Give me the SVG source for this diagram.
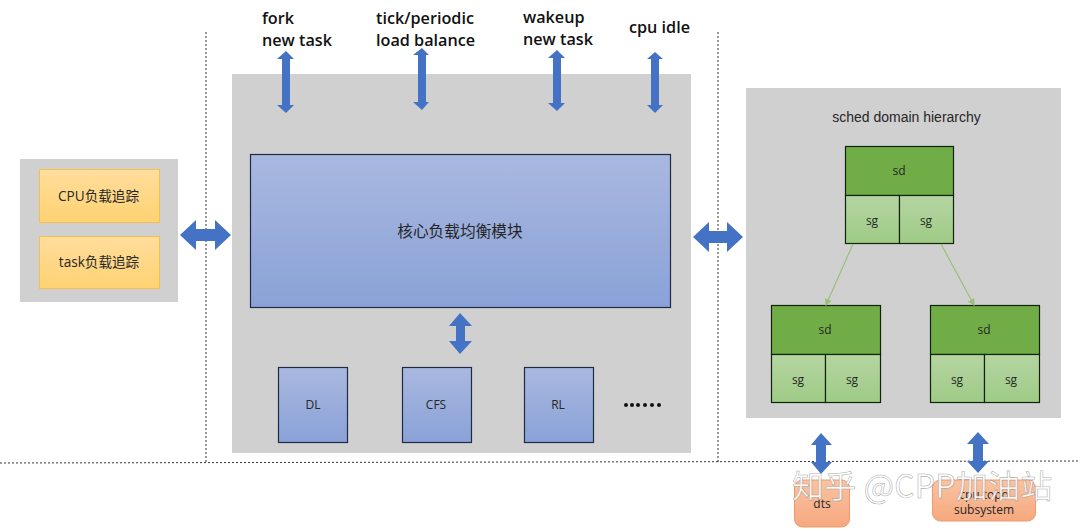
<svg xmlns="http://www.w3.org/2000/svg" width="1080" height="531" viewBox="0 0 1080 531">
<style>
text{font-family:"Open Sans","Noto Sans CJK SC",sans-serif;text-anchor:middle;fill:#262626}
.panel{fill:#d0d0d0}
.y{fill:url(#gy);stroke:#f0c050;stroke-width:1}
.b{fill:url(#gb);stroke:#1f2a44;stroke-width:1.2}
.sd{fill:#70ad47;stroke:#10240a;stroke-width:1.2}
.sg{fill:url(#gg);stroke:#10240a;stroke-width:1.2}
.o{fill:url(#go);stroke:#ed9a70;stroke-width:1}
.a{fill:#4472c4}
.top{font-size:16.2px;font-weight:600;text-anchor:start;fill:#111}
.s{font-size:12px}
.t{font-size:13.6px}
.d{stroke:#333;stroke-width:1;stroke-dasharray:2 2;fill:none}
.g{stroke:#9cbf7a;stroke-width:1.2;fill:none;marker-end:url(#m)}
.w{font-size:32px;letter-spacing:.2px;fill:#fff;fill-opacity:.85;stroke:#8a8a8a;stroke-width:.6;stroke-opacity:.7;text-anchor:start;font-family:"Noto Sans CJK SC",sans-serif}
</style>
<defs>
<linearGradient id="gy" x1="0" y1="0" x2="0" y2="1"><stop offset="0" stop-color="#ffdd9c"/><stop offset="1" stop-color="#ffd272"/></linearGradient>
<linearGradient id="gb" x1="0" y1="0" x2="0" y2="1"><stop offset="0" stop-color="#a9b8df"/><stop offset="1" stop-color="#8aa2d8"/></linearGradient>
<linearGradient id="gg" x1="0" y1="0" x2="0" y2="1"><stop offset="0" stop-color="#b5d5a2"/><stop offset="1" stop-color="#9fcb86"/></linearGradient>
<linearGradient id="go" x1="0" y1="0" x2="0" y2="1"><stop offset="0" stop-color="#f9c3a2"/><stop offset="1" stop-color="#f6a87e"/></linearGradient>
<marker id="m" markerWidth="6" markerHeight="6" refX="5" refY="3" orient="auto"><path d="M0 0L6 3L0 6z" fill="#9cbf7a"/></marker>
</defs>
<rect width="1080" height="531" fill="#fff"/>
<g id="load-tracking"><rect class="panel" x="20" y="159" width="158" height="143"/>
<rect class="y" x="39.500" y="169.500" width="120" height="53"/><text class="t" x="98.500" y="201">CPU负载追踪</text>
<rect class="y" x="39.500" y="236.500" width="120" height="52"/><text class="t" x="99" y="267">task负载追踪</text></g>
<g id="core-panel"><rect class="panel" x="232" y="74" width="459" height="379"/></g>
<g id="core-module"><rect class="b" x="250.500" y="154.500" width="420" height="153"/><text x="460" y="237" font-size="15.7">核心负载均衡模块</text></g>
<g id="dl"><rect class="b" x="278.500" y="367.500" width="69" height="75"/><text class="s" x="313" y="409">DL</text></g>
<g id="cfs"><rect class="b" x="402.500" y="367.500" width="69" height="75"/><text class="s" x="436" y="409">CFS</text></g>
<g id="rl"><rect class="b" x="524.500" y="367.500" width="69" height="75"/><text class="s" x="558" y="409">RL</text></g>
<g id="dots" fill="#111"><circle cx="626" cy="405" r="2"/><circle cx="632" cy="405" r="2"/><circle cx="638" cy="405" r="2"/><circle cx="645" cy="405" r="2"/><circle cx="652" cy="405" r="2"/><circle cx="659" cy="405" r="2"/></g>
<g id="sched-domain"><rect class="panel" x="746" y="88" width="315" height="330"/>
<text x="906.500" y="122" font-size="14" style="font-family:'Liberation Sans',sans-serif">sched domain hierarchy</text></g>
<g id="sd-top"><rect class="sd" x="845.500" y="146.500" width="108" height="49"/><rect class="sg" x="845.500" y="195.500" width="54" height="48"/><rect class="sg" x="899.500" y="195.500" width="54" height="48"/>
<text class="s" x="899" y="175">sd</text><text class="s" x="872" y="225">sg</text><text class="s" x="926" y="225">sg</text></g>
<g id="sd-left"><rect class="sd" x="771.500" y="305.500" width="109" height="49"/><rect class="sg" x="771.500" y="354.500" width="54" height="48"/><rect class="sg" x="825.500" y="354.500" width="55" height="48"/>
<text class="s" x="825" y="334">sd</text><text class="s" x="798" y="384">sg</text><text class="s" x="852" y="384">sg</text></g>
<g id="sd-right"><rect class="sd" x="930.500" y="305.500" width="109" height="49"/><rect class="sg" x="930.500" y="354.500" width="54" height="48"/><rect class="sg" x="984.500" y="354.500" width="55" height="48"/>
<text class="s" x="984" y="334">sd</text><text class="s" x="957" y="384">sg</text><text class="s" x="1011" y="384">sg</text></g>
<g id="dts"><rect class="o" x="794.500" y="480" width="55" height="47" rx="8"/><text class="s" x="822" y="508">dts</text></g>
<g id="cpu-topology"><rect class="o" x="932.500" y="480" width="103" height="41" rx="8"/><text class="s" x="984" y="499">cpu topo</text><text class="s" x="984" y="514">subsystem</text></g>
<g id="labels">
<text class="top" x="262" y="24">fork</text><text class="top" x="262" y="46">new task</text>
<text class="top" x="376" y="24">tick/periodic</text><text class="top" x="376" y="46">load balance</text>
<text class="top" x="523" y="23">wakeup</text><text class="top" x="523" y="45">new task</text>
<text class="top" x="629" y="33">cpu idle</text></g>
<g id="connectors">
<path class="d" d="M206 32V462M718 32V462M0 463L1080 461"/>
<path class="g" d="M853 244L826 305"/><path class="g" d="M941 244L974 305"/>
<path class="a" d="M286 51L294 59H290V105H294L286 113L277 105H282V59H277Z"/>
<path class="a" d="M422 48L429 55H426V102H429L422 110L413 102H418V55H413Z"/>
<path class="a" d="M557 50L565 58H561V103H565L557 111L548 103H553V58H548Z"/>
<path class="a" d="M655 52L663 59H659V105H663L655 113L647 105H651V59H647Z"/>
<path class="a" d="M460 313L472 326H465V341H472L460 354L449 341H456V326H449Z"/>
<path class="a" d="M180 235L196 220V229H215V220L231 235L215 250V241H196V250Z"/>
<path class="a" d="M693 237L709 222V231H727V222L743 237L727 252V243H709V252Z"/>
<path class="a" d="M821 433L832 445H826V462H832L821 474L811 462H816V445H811Z"/>
<path class="a" d="M978 432L989 444H983V461H989L978 473L967 461H973V444H967Z"/>
</g>
<g id="watermark"><text class="w" x="792" y="498">知乎 @CPP加油站</text></g>
</svg>
